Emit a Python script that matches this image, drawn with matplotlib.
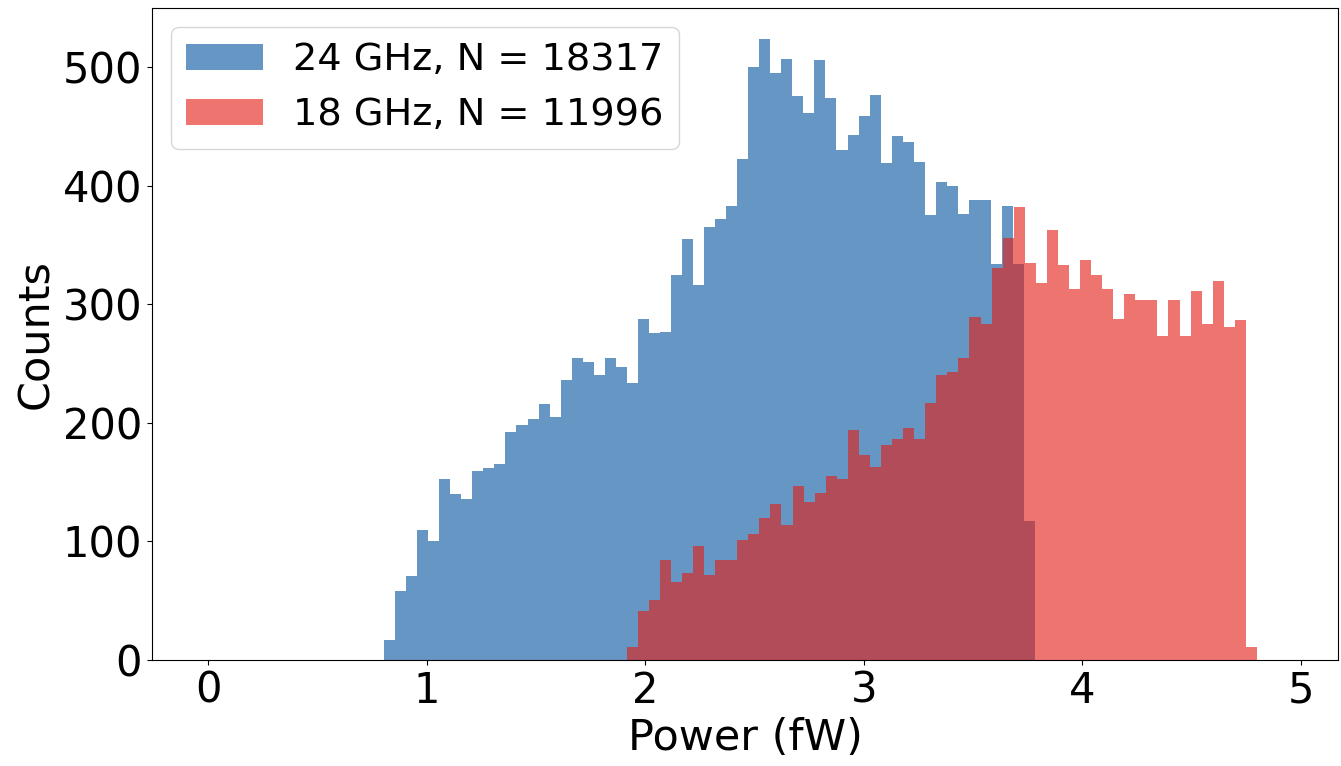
import numpy as np
import matplotlib
matplotlib.use("Agg")
import matplotlib.pyplot as plt

# 24 GHz histogram: 59 bins from 0.805 to 3.784 fW
blue_lo, blue_hi = 0.805, 3.784
blue_counts = [17, 58, 71, 110, 100, 153, 140, 136, 159, 162,
               165, 192, 198, 203, 216, 205, 236, 255, 251, 240,
               255, 247, 234, 288, 276, 277, 325, 355, 316, 365,
               372, 383, 423, 500, 524, 495, 507, 476, 461, 506,
               474, 430, 443, 459, 477, 419, 442, 437, 420, 375,
               403, 400, 376, 388, 388, 334, 383, 334, 117]

# 18 GHz histogram: 57 bins from 1.915 to 4.799 fW
red_lo, red_hi = 1.915, 4.799
red_counts = [11, 41, 51, 84, 66, 73, 96, 72, 84, 84,
              101, 106, 120, 132, 114, 147, 133, 141, 155, 153,
              194, 173, 163, 181, 186, 196, 186, 217, 240, 243,
              255, 289, 283, 331, 356, 382, 335, 318, 363, 333,
              313, 337, 325, 313, 288, 309, 304, 304, 273, 304,
              273, 311, 283, 320, 281, 287, 11]

labels = ["24 GHz, N = 18317", "18 GHz, N = 11996"]

blue_edges = np.linspace(blue_lo, blue_hi, len(blue_counts) + 1)
red_edges = np.linspace(red_lo, red_hi, len(red_counts) + 1)

fig = plt.figure(figsize=(13.41, 7.66), dpi=100)
ax = fig.add_axes([0.1133, 0.1384, 0.8845, 0.8512])

ax.hist(blue_edges[:-1], bins=blue_edges, weights=blue_counts,
        color="#00529d", alpha=0.6, label=labels[0])
ax.hist(red_edges[:-1], bins=red_edges, weights=red_counts,
        color="#e41a10", alpha=0.6, label=labels[1])

ax.set_xlim(-0.257, 5.17)
ax.set_ylim(0, 550)
ax.set_xticks([0, 1, 2, 3, 4, 5])
ax.set_yticks([0, 100, 200, 300, 400, 500])
ax.tick_params(labelsize=30)
ax.set_xlabel("Power (fW)", fontsize=31)
ax.set_ylabel("Counts", fontsize=31)
ax.legend(loc="upper left", fontsize=27.5)

fig.savefig("out.png", dpi=100)
